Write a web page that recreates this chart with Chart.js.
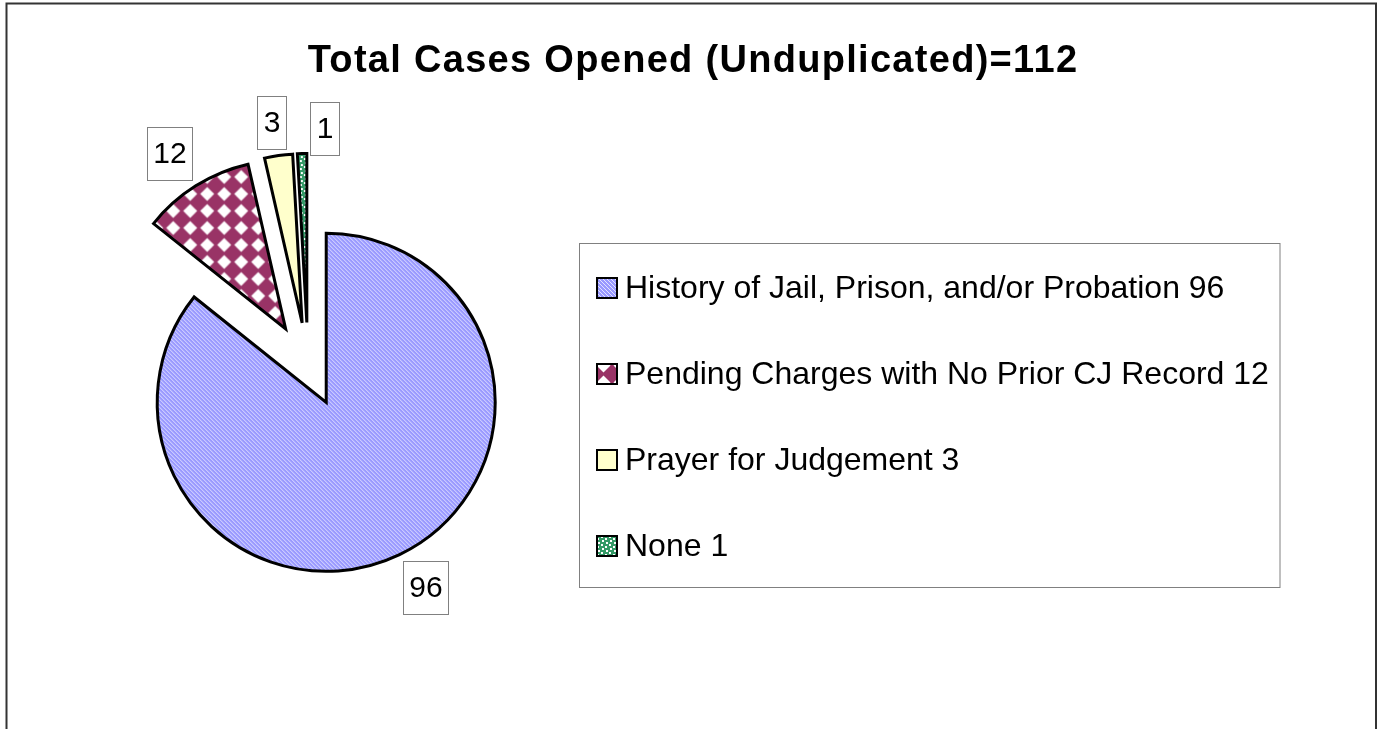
<!DOCTYPE html>
<html><head><meta charset="utf-8">
<script src="https://cdn.jsdelivr.net/npm/chart.js@4.4.1/dist/chart.umd.min.js"></script>
<style>html,body{margin:0;padding:0;background:#fff;overflow:hidden}canvas{display:block}</style>
</head><body>
<canvas id="c" width="1377" height="729"></canvas>
<script>
// ---- data ----
const chartTitle = 'Total Cases Opened (Unduplicated)=112';
const categories = ['History of Jail, Prison, and/or Probation', 'Pending Charges with No Prior CJ Record', 'Prayer for Judgement', 'None'];
const caseCounts = [96, 12, 3, 1];

// ---- style ----
const FONT = '"Liberation Sans", Arial, Helvetica, sans-serif';
const EXPLODE = 42;       // explosion distance of every slice
const LABEL_GAP = 7;      // gap between arc and data label anchor
const LABEL_MIN_SEP = 24; // min horizontal separation between label boxes

function makePattern(size, painter) {
  const c = document.createElement('canvas');
  c.width = size; c.height = size;
  const g = c.getContext('2d');
  painter(g, size);
  return g.createPattern(c, 'repeat');
}
const cvs = document.getElementById('c');

const stripePattern = makePattern(4, (g, s) => {
  g.fillStyle = '#9999FF'; g.fillRect(0, 0, s, s);
  for (let i = 0; i < s; i++) {
    g.fillStyle = '#E4E4FF'; g.fillRect(i, i, 1, 1);
  }
});
function diamond(g, cx, cy, h) {
  g.beginPath(); g.moveTo(cx, cy - h); g.lineTo(cx + h, cy); g.lineTo(cx, cy + h); g.lineTo(cx - h, cy); g.closePath(); g.fill();
}
const diamondPattern = makePattern(17, (g, s) => {
  g.fillStyle = '#993366'; g.fillRect(0, 0, s, s);
  g.fillStyle = '#FFFFFF';
  diamond(g, s / 2, s / 2, 7);
});
const confettiPattern = makePattern(8, (g, s) => {
  g.fillStyle = '#339966'; g.fillRect(0, 0, s, s);
  g.fillStyle = '#FFFFFF';
  g.fillRect(1, 0, 2, 2); g.fillRect(5, 2, 2, 2); g.fillRect(2, 4, 2, 2); g.fillRect(6, 6, 2, 2);
});
const sliceFills = [stripePattern, diamondPattern, '#FFFFCC', confettiPattern];

// every slice exploded outward along its mid angle
const baseArcDraw = Chart.ArcElement.prototype.draw;
Chart.ArcElement.prototype.draw = function (ctx) {
  const mid = (this.startAngle + this.endAngle) / 2;
  ctx.save();
  ctx.translate(Math.cos(mid) * EXPLODE, Math.sin(mid) * EXPLODE);
  baseArcDraw.call(this, ctx);
  ctx.restore();
};

const clamp1 = v => Math.max(-1, Math.min(1, v));

const decor = {
  id: 'decor',
  beforeDraw(chart) {
    const ctx = chart.ctx;
    ctx.save();
    ctx.fillStyle = '#fff';
    ctx.fillRect(0, 0, chart.width, chart.height);
    ctx.restore();
  },
  afterDraw(chart) {
    const ctx = chart.ctx;
    ctx.save();
    // outer frame
    ctx.strokeStyle = '#333';
    ctx.lineWidth = 2;
    ctx.strokeRect(6.5, 3.5, 1369.5, 900);

    // title
    ctx.fillStyle = '#000';
    ctx.font = `bold 38px ${FONT}`;
    if ('letterSpacing' in ctx) ctx.letterSpacing = '1.3px';
    ctx.textAlign = 'center';
    ctx.textBaseline = 'alphabetic';
    ctx.fillText(chartTitle, 693, 72);
    if ('letterSpacing' in ctx) ctx.letterSpacing = '0px';

    // data labels (outside end, anchored on the mid angle)
    const meta = chart.getDatasetMeta(0);
    ctx.font = `30px ${FONT}`;
    const placed = [];
    meta.data.forEach((arc, i) => {
      const p = arc.getProps(['x', 'y', 'startAngle', 'endAngle', 'outerRadius'], true);
      const mid = (p.startAngle + p.endAngle) / 2;
      const dx = Math.cos(mid), dy = Math.sin(mid);
      const vx = p.x + dx * EXPLODE, vy = p.y + dy * EXPLODE;
      const text = String(caseCounts[i]);
      const w = Math.round(ctx.measureText(text).width + 12);
      const h = 53;
      const ax = vx + dx * (p.outerRadius + LABEL_GAP);
      const ay = vy + dy * (p.outerRadius + LABEL_GAP);
      let cx = ax + clamp1(3 * dx) * w / 2;
      let cy = ay + clamp1(3 * dy) * h / 2;
      placed.forEach(b => {
        const vOverlap = Math.abs(cy - b.cy) < (h + b.h) / 2;
        const left = cx - w / 2;
        if (vOverlap && left < b.cx + b.w / 2 + LABEL_MIN_SEP && cx > b.cx) {
          cx = b.cx + b.w / 2 + LABEL_MIN_SEP + w / 2;
          cy = cy + 8;
        }
      });
      placed.push({cx, cy, w, h});
      const bx = Math.round(cx - w / 2) + 0.5, by = Math.round(cy - h / 2) + 0.5;
      ctx.fillStyle = '#fff';
      ctx.fillRect(bx, by, w, h);
      ctx.strokeStyle = '#808080';
      ctx.lineWidth = 1;
      ctx.strokeRect(bx, by, w, h);
      ctx.fillStyle = '#000';
      ctx.textAlign = 'center';
      ctx.textBaseline = 'middle';
      ctx.fillText(text, bx + w / 2, by + h / 2 + 1);
    });

    // legend
    const L = {x: 579.5, y: 243.5, w: 700.5, h: 344};
    ctx.fillStyle = '#fff';
    ctx.fillRect(L.x, L.y, L.w, L.h);
    ctx.strokeStyle = '#808080';
    ctx.lineWidth = 1;
    ctx.strokeRect(L.x, L.y, L.w, L.h);
    const rowTop = 288, rowStep = 86;
    ctx.font = `32px ${FONT}`;
    ctx.textAlign = 'left';
    ctx.textBaseline = 'middle';
    categories.forEach((cat, i) => {
      const cy = rowTop + i * rowStep;
      ctx.fillStyle = sliceFills[i];
      ctx.fillRect(597, cy - 10, 20, 20);
      ctx.strokeStyle = '#000';
      ctx.lineWidth = 2;
      ctx.strokeRect(597, cy - 10, 20, 20);
      ctx.fillStyle = '#000';
      ctx.fillText(`${cat} ${caseCounts[i]}`, 625, cy + 1);
    });
    ctx.restore();
  }
};

new Chart(cvs, {
  type: 'pie',
  data: {
    labels: categories,
    datasets: [{
      data: caseCounts,
      backgroundColor: sliceFills,
      borderColor: '#000',
      borderWidth: 3,
      borderJoinStyle: 'miter',
      hoverOffset: 0
    }]
  },
  options: {
    responsive: false,
    animation: false,
    events: [],
    radius: 169,
    layout: {padding: {left: 0, right: 761, top: 0, bottom: 0}},
    plugins: {legend: {display: false}, title: {display: false}, tooltip: {enabled: false}}
  },
  plugins: [decor]
});
</script>
</body></html>
